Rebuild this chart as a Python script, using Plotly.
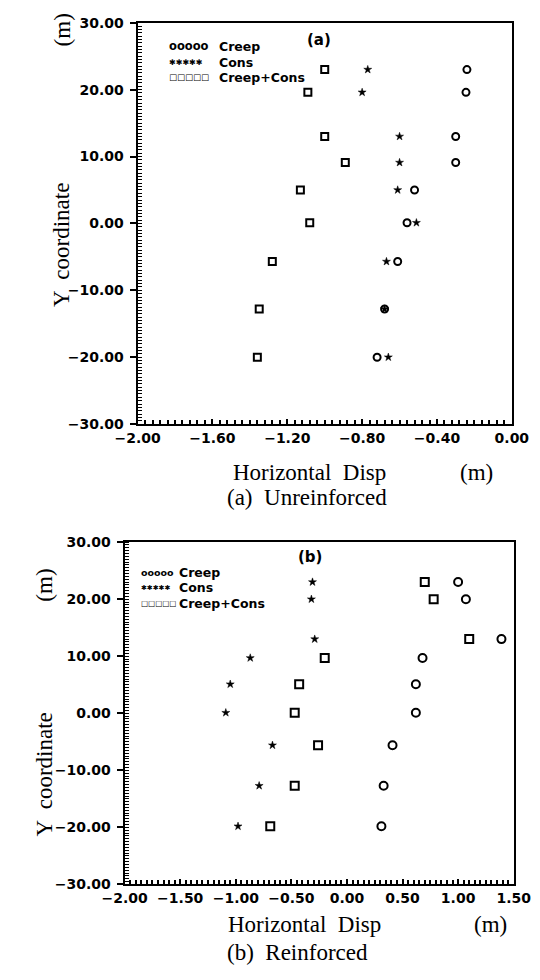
import plotly.graph_objects as go

# ---------------- data ----------------
series_names = ["Creep", "Cons", "Creep+Cons"]

top_y = [23, 19.6, 13, 9.1, 5, 0.1, -5.7, -12.8, -20]
top_creep = [-0.24, -0.245, -0.30, -0.30, -0.52, -0.56, -0.61, -0.68, -0.72]
top_cons = [-0.77, -0.80, -0.60, -0.60, -0.61, -0.51, -0.67, -0.68, -0.66]
top_total = [-1.00, -1.09, -1.00, -0.89, -1.13, -1.08, -1.28, -1.35, -1.36]

bot_y = [23, 20, 13, 9.7, 5.1, 0.1, -5.6, -12.7, -19.8]
bot_creep = [1.00, 1.07, 1.39, 0.68, 0.62, 0.62, 0.41, 0.33, 0.31]
bot_cons = [-0.31, -0.32, -0.29, -0.87, -1.05, -1.09, -0.67, -0.79, -0.98]
bot_total = [0.70, 0.78, 1.10, -0.20, -0.43, -0.47, -0.26, -0.47, -0.69]

top_xticks = [-2.0, -1.6, -1.2, -0.8, -0.4, 0.0]
top_xlabels = ["\u22122.00", "\u22121.60", "\u22121.20", "\u22120.80", "\u22120.40", "0.00"]
bot_xticks = [-2.0, -1.5, -1.0, -0.5, 0.0, 0.5, 1.0, 1.5]
bot_xlabels = ["\u22122.00", "\u22121.50", "\u22121.00", "\u22120.50", "0.00", "0.50", "1.00", "1.50"]
yticks = [-30, -20, -10, 0, 10, 20, 30]
ylabels = ["\u221230.00", "\u221220.00", "\u221210.00", "0.00", "10.00", "20.00", "30.00"]

panel_tags = ["(a)", "(b)"]
panel_captions = ["(a)  Unreinforced", "(b)  Reinforced"]
x_title = "Horizontal  Disp"
y_title = "Y  coordinate"
unit = "(m)"

# ---------------- figure ----------------
W, H = 540, 980
def px(x):
    return x / W
def py(y):
    return 1 - y / H

fig = go.Figure()

tick_font = dict(family="DejaVu Sans", size=14, color="black", weight="bold")
serif = dict(family="Liberation Serif", size=23, color="black")

mk_cons = dict(symbol="star", size=6, color="black", line=dict(width=0.5, color="black"))

for axn, (yv, c1, c2, c3) in zip(["", "2"], [(top_y, top_creep, top_cons, top_total),
                                          (bot_y, bot_creep, bot_cons, bot_total)]):
    xa, ya = "x" + axn, "y" + axn
    sz = 8 if axn == "2" else 7
    m1 = dict(symbol="circle-open", size=sz, color="black", line=dict(width=2, color="black"))
    m3 = dict(symbol="square-open", size=sz, color="black", line=dict(width=2, color="black"))
    fig.add_trace(go.Scatter(x=c1, y=yv, mode="markers", marker=m1, name=series_names[0],
                             xaxis=xa, yaxis=ya, showlegend=False))
    fig.add_trace(go.Scatter(x=c2, y=yv, mode="markers", marker=mk_cons, name=series_names[1],
                             xaxis=xa, yaxis=ya, showlegend=False))
    fig.add_trace(go.Scatter(x=c3, y=yv, mode="markers", marker=m3, name=series_names[2],
                             xaxis=xa, yaxis=ya, showlegend=False))

common_axis = dict(showline=True, linecolor="black", linewidth=2, mirror=True,
                   showgrid=False, zeroline=False, tickfont=tick_font, tickmode="array",
                   tickcolor="black", tickwidth=2, ticklabeloverflow="allow")

fig.update_layout(
    width=W, height=H, margin=dict(l=0, r=0, t=0, b=0),
    paper_bgcolor="white", plot_bgcolor="white",
    xaxis=dict(common_axis, domain=[px(124), px(529)], range=[-2.0, 0.0], anchor="y",
               tickvals=top_xticks, ticktext=top_xlabels, ticks="inside", ticklen=5,
               minor=dict(dtick=0.04, tick0=-2, ticks="inside", ticklen=4, tickcolor="black", tickwidth=1.5)),
    yaxis=dict(common_axis, domain=[py(423), py(15)], range=[-30, 30], anchor="x",
               tickvals=yticks, ticktext=ylabels, ticks="outside", ticklen=6, ticklabelstandoff=3,
               minor=dict(dtick=0.5, ticks="inside", ticklen=4, tickcolor="black", tickwidth=1.2)),
    xaxis2=dict(common_axis, domain=[px(110), px(531)], range=[-2.0, 1.5], anchor="y2",
                tickvals=bot_xticks, ticktext=bot_xlabels, ticks="inside", ticklen=5,
                minor=dict(dtick=0.05, tick0=-2, ticks="inside", ticklen=4, tickcolor="black", tickwidth=1.5)),
    yaxis2=dict(common_axis, domain=[py(891), py(543)], range=[-30, 30], anchor="x2",
                tickvals=yticks, ticktext=ylabels, ticks="outside", ticklen=6, ticklabelstandoff=3,
                minor=dict(dtick=0.5, ticks="inside", ticklen=4, tickcolor="black", tickwidth=1.2)),
)

ann = []
def text(x, y, s, font, xanchor="center", yanchor="middle", angle=0):
    ann.append(dict(x=px(x), y=py(y), xref="paper", yref="paper", text=s, showarrow=False,
                    font=font, xanchor=xanchor, yanchor=yanchor, textangle=angle, borderpad=0))

# top panel texts
text(310, 472, x_title, serif)
text(491, 472, unit, serif)
text(307, 498, panel_captions[0], serif)
text(41, 241, y_title, serif, angle=-90)
text(43, 22, unit, serif, angle=-90)
text(320, 33, "<b>" + panel_tags[0] + "</b>", dict(family="DejaVu Sans", size=15, color="black"))

# bottom panel texts
text(305, 932, x_title, serif)
text(506, 932, unit, serif)
text(297, 960, panel_captions[1], serif)
text(23, 779, y_title, serif, angle=-90)
text(23, 587, unit, serif, angle=-90)
text(311, 558, "<b>" + panel_tags[1] + "</b>", dict(family="DejaVu Sans", size=15, color="black"))

# legends (text glyph rows)
glyphs = ["ooooo", "\u2731\u2731\u2731\u2731\u2731", "\u25a1\u25a1\u25a1\u25a1\u25a1"]
# (glyph x, label x, row ys, [glyph sizes], label size)
legend_rows = [(157, 211, [39, 55, 70.5], [11.5, 8, 8.5], 12.5),
               (127, 168, [574, 589.5, 605], [9.5, 7, 7.5], 12.5)]
for (gx, lx, rows, gsz, ls) in legend_rows:
    for g, name, ry, s in zip(glyphs, series_names, rows, gsz):
        gf = dict(family="DejaVu Sans", size=s, color="black", weight="bold")
        text(gx, ry, g, gf, xanchor="left")
        text(lx, ry, name, dict(family="DejaVu Sans", size=ls, color="black", weight="bold"),
             xanchor="left")

fig.update_layout(annotations=ann)
fig.write_html("out.html", config={"displayModeBar": False},
               post_script="document.body.style.margin='0';document.body.style.overflow='hidden';")
